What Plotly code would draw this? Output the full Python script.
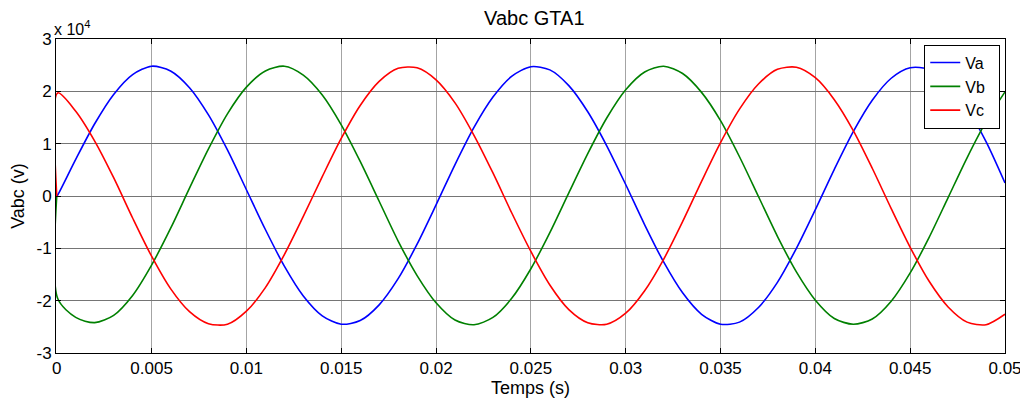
import plotly.graph_objects as go

# -------------------------------------------------
# Data, values in units of 1e4 V
# -------------------------------------------------
t_ms = [0, 0.05, 1, 2, 3, 4, 5, 6, 7, 8, 9, 10,
        11, 12, 13, 14, 15, 16, 17, 18, 19, 20,
        21, 22, 23, 24, 25, 26, 27, 28, 29, 30,
        31, 32, 33, 34, 35, 36, 37, 38, 39, 40,
        41, 42, 43, 44, 45, 46, 47, 48, 49, 50]

va = [0.00, 0.02, 0.70, 1.38, 1.94, 2.32, 2.48, 2.39, 2.07, 1.55, 0.88, 0.12,
      -0.64, -1.34, -1.91, -2.29, -2.45, -2.38, -2.08, -1.58, -0.92, -0.17,
      0.60, 1.31, 1.89, 2.29, 2.47, 2.41, 2.11, 1.61, 0.96, 0.22,
      -0.55, -1.26, -1.85, -2.26, -2.45, -2.41, -2.13, -1.65, -1.00, -0.26,
      0.51, 1.23, 1.83, 2.25, 2.45, 2.42, 2.16, 1.68, 1.04, 0.25]

vb = [0.00, -1.96, -2.32, -2.42, -2.28, -1.90, -1.32, -0.62, 0.15, 0.90, 1.57, 2.08,
      2.39, 2.48, 2.31, 1.93, 1.36, 0.66, -0.10, -0.86, -1.52, -2.04,
      -2.37, -2.46, -2.32, -1.95, -1.39, -0.70, 0.06, 0.81, 1.49, 2.03,
      2.37, 2.48, 2.34, 1.98, 1.44, 0.75, -0.01, -0.77, -1.45, -1.99,
      -2.34, -2.45, -2.35, -2.01, -1.47, -0.79, -0.03, 0.73, 1.42, 1.99]

vc = [0.00, 1.97, 1.62, 1.05, 0.35, -0.42, -1.15, -1.77, -2.21, -2.44, -2.45, -2.20,
      -1.75, -1.12, -0.39, 0.37, 1.10, 1.73, 2.19, 2.44, 2.45, 2.22,
      1.78, 1.16, 0.44, -0.33, -1.06, -1.70, -2.17, -2.42, -2.45, -2.24,
      -1.81, -1.21, -0.49, 0.28, 1.02, 1.66, 2.14, 2.42, 2.46, 2.26,
      1.84, 1.25, 0.53, -0.24, -0.98, -1.63, -2.12, -2.41, -2.46, -2.26]

t_s = [v / 1000 for v in t_ms]

x_ticks = [0, 0.005, 0.01, 0.015, 0.02, 0.025, 0.03, 0.035, 0.04, 0.045, 0.05]
x_tick_labels = ["0", "0.005", "0.01", "0.015", "0.02", "0.025",
                 "0.03", "0.035", "0.04", "0.045", "0.05"]
y_ticks = [-3, -2, -1, 0, 1, 2, 3]

FONT = "Liberation Sans, Arial, sans-serif"
NBSP = "\u00a0"

fig = go.Figure()

for name, vals, color in [("Va", va, "#0000ff"),
                          ("Vb", vb, "#008000"),
                          ("Vc", vc, "#ff0000")]:
    fig.add_trace(
        go.Scatter(
            x=t_s,
            y=vals,
            mode="lines",
            name=name + NBSP * 2,
            line=dict(color=color, width=1.6, shape="spline", smoothing=0.8),
        )
    )

axis_common = dict(
    showline=True,
    linecolor="black",
    linewidth=1,
    mirror="ticks",
    ticks="inside",
    ticklen=5,
    tickcolor="black",
    showgrid=True,
    gridwidth=1,
    zeroline=False,
    automargin=False,
    tickfont=dict(family=FONT, size=17, color="black"),
)

fig.update_xaxes(
    range=[-0.00004, 0.05],
    tickvals=x_ticks,
    ticktext=x_tick_labels,
    gridcolor="#a4a4a4",
    title=dict(text="Temps (s)", font=dict(family=FONT, size=18, color="black"),
               standoff=0),
    **axis_common,
)
fig.update_yaxes(
    range=[-3, 3],
    tickvals=y_ticks,
    ticktext=[str(v) for v in y_ticks],
    gridcolor="#757575",
    title=dict(text="Vabc (v)", font=dict(family=FONT, size=18, color="black"),
               standoff=10),
    **axis_common,
)

# exponent label, MATLAB style
fig.add_annotation(
    x=0, y=1, xref="paper", yref="paper",
    text="x 10<sup>4</sup>",
    showarrow=False,
    xanchor="left", yanchor="bottom",
    xshift=-4, yshift=-1,
    font=dict(family=FONT, size=16, color="black"),
)

# page body keeps its default 8px margin, so the figure is 8px smaller
fig.update_layout(
    width=1020,
    height=395,
    margin=dict(l=48, r=23, t=31, b=50),
    paper_bgcolor="white",
    plot_bgcolor="white",
    title=dict(text="Vabc GTA1", x=0.516, xanchor="center",
               y=0.975, yanchor="middle",
               font=dict(family=FONT, size=20, color="black")),
    legend=dict(
        x=0.995, y=0.982, xanchor="right", yanchor="top",
        bgcolor="white",
        bordercolor="black",
        borderwidth=1,
        font=dict(family=FONT, size=16, color="black"),
        tracegroupgap=0,
    ),
    showlegend=True,
)

fig.write_html("out.html")
